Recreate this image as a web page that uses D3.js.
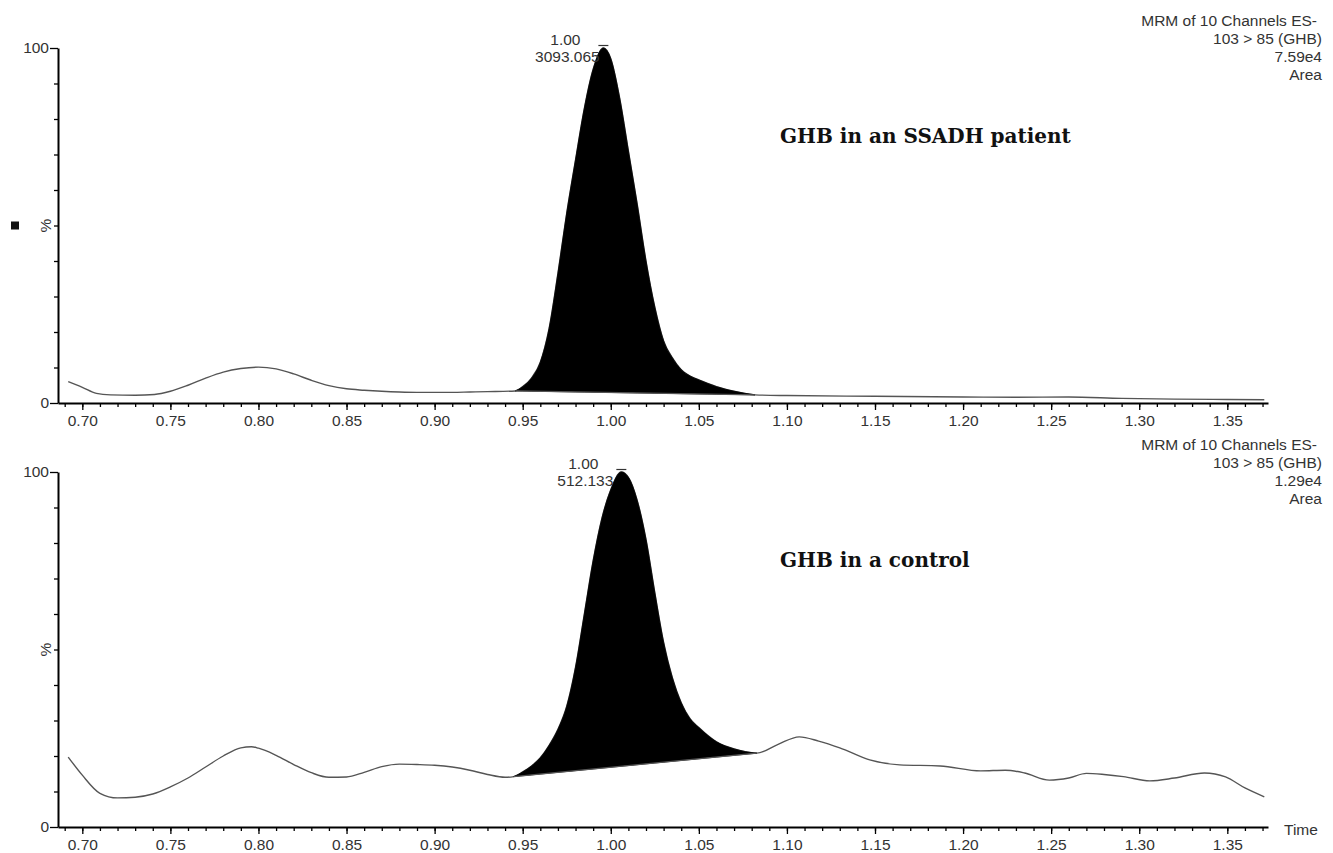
<!DOCTYPE html>
<html>
<head>
<meta charset="utf-8">
<script src="https://cdn.jsdelivr.net/npm/d3@7"></script>
<style>
  body { margin: 0; background: #fff; }
  svg { display: block; }
  .tick text { font-family: "Liberation Sans", Arial, sans-serif; font-size: 15.5px; fill: #333; }
</style>
</head>
<body>
<div id="chart"></div>
<script>
// retention time (min) and relative intensity (%)
const topTime = [0.692, 0.700, 0.708, 0.716, 0.730, 0.741, 0.750, 0.760, 0.770, 0.780, 0.790, 0.800,
  0.810, 0.820, 0.830, 0.840, 0.850, 0.860, 0.870, 0.880, 0.890, 0.900, 0.910, 0.920, 0.930, 0.9457,
  0.950, 0.955, 0.960, 0.965, 0.970, 0.975, 0.980, 0.985, 0.990, 0.9958, 1.000, 1.005, 1.010, 1.015,
  1.020, 1.025, 1.030, 1.035, 1.040, 1.045, 1.050, 1.055, 1.060, 1.070, 1.0819, 1.100, 1.150, 1.200,
  1.230, 1.260, 1.290, 1.320, 1.350, 1.371];
const topPct = [6.0, 4.4, 2.7, 2.3, 2.2, 2.4, 3.3, 5.0, 7.0, 8.7, 9.7, 10.1,
  9.6, 8.2, 6.4, 4.9, 4.0, 3.6, 3.3, 3.1, 3.0, 3.0, 3.0, 3.1, 3.2, 3.4,
  4.6, 7.0, 11.5, 21, 36.5, 53.5, 68.5, 83, 94, 100, 97, 86, 71, 56,
  40, 27, 17.5, 12.7, 9.4, 7.6, 6.5, 5.5, 4.6, 3.3, 2.3, 2.1, 1.9, 1.7,
  1.6, 1.7, 1.3, 1.1, 1.0, 0.9];

const botTime = [0.692, 0.700, 0.710, 0.720, 0.730, 0.740, 0.750, 0.760, 0.770, 0.780, 0.790, 0.796,
  0.800, 0.810, 0.820, 0.830, 0.840, 0.850, 0.860, 0.870, 0.880, 0.890, 0.900, 0.910, 0.920, 0.930,
  0.940, 0.9449, 0.950, 0.955, 0.960, 0.965, 0.970, 0.975, 0.980, 0.985, 0.990, 0.995, 1.000, 1.006,
  1.010, 1.015, 1.020, 1.025, 1.030, 1.035, 1.040, 1.045, 1.050, 1.060, 1.070, 1.0829, 1.095, 1.107,
  1.118, 1.130, 1.147, 1.164, 1.187, 1.210, 1.224, 1.235, 1.249, 1.260, 1.270, 1.280, 1.291, 1.306,
  1.320, 1.337, 1.349, 1.360, 1.371];
const botPct = [19.7, 14.6, 9.5, 8.2, 8.4, 9.3, 11.3, 13.8, 16.9, 20.0, 22.3, 22.6,
  22.2, 20.2, 17.6, 15.3, 14.0, 14.1, 15.4, 17.0, 17.7, 17.6, 17.4, 16.9, 16.0, 14.8,
  14.0, 14.2, 15.5, 17.2, 19.5, 23, 27.5, 34, 45, 60, 75, 87, 95, 100,
  98.5, 92, 81, 66, 52, 42, 35, 30.5, 28, 24, 22, 20.8, 23.3, 25.4,
  24.2, 22.3, 18.9, 17.5, 17.2, 15.8, 16.0, 15.2, 13.2, 13.8, 15.1, 14.8, 14.2, 13.0,
  13.8, 15.2, 14.1, 11.0, 8.5];

// integration limits [start, end]
const topPeak = [0.9457, 1.0819];
const botPeak = [0.9449, 1.0829];

const peakRT = ["1.00", "1.00"];
const peakArea = ["3093.065", "512.133"];
const headerLines = [
  ["MRM of 10 Channels ES-", "103 > 85 (GHB)", "7.59e4", "Area"],
  ["MRM of 10 Channels ES-", "103 > 85 (GHB)", "1.29e4", "Area"]
];
const panelTitles = ["GHB in an SSADH patient", "GHB in a control"];

const xMajor = [0.70, 0.75, 0.80, 0.85, 0.90, 0.95, 1.00, 1.05, 1.10, 1.15, 1.20, 1.25, 1.30, 1.35];
const xMinor = d3.range(69, 138).map(d => d / 100);
const yMajor = [0, 100];
const yMinor = [10, 20, 30, 40, 50, 60, 70, 80, 90];

const w = 1333, h = 853;
const svg = d3.select("#chart").append("svg")
  .attr("width", w).attr("height", h);

const x = d3.scaleLinear().domain([0.6862, 1.3731]).range([58, 1268]);

const panels = [
  { time: topTime, pct: topPct, peak: topPeak, y0: 403, y1: 48, square: true },
  { time: botTime, pct: botPct, peak: botPeak, y0: 827, y1: 472, square: false }
];

const sans = "'Liberation Sans', Arial, sans-serif";

panels.forEach((p, i) => {
  const y = d3.scaleLinear().domain([0, 100]).range([p.y0, p.y1]);
  const g = svg.append("g");
  const pts = p.time.map((t, k) => ({ t: t, v: p.pct[k] }));

  // trace
  const line = d3.line().x(d => x(d.t)).y(d => y(d.v)).curve(d3.curveMonotoneX);
  g.append("path").datum(pts)
    .attr("d", line)
    .attr("fill", "none")
    .attr("stroke", "#555")
    .attr("stroke-width", 1.4);

  // integrated peak, filled down to a straight baseline
  const s = pts.find(d => d.t === p.peak[0]);
  const e = pts.find(d => d.t === p.peak[1]);
  const base = d3.scaleLinear().domain([s.t, e.t]).range([s.v, e.v]);
  const inPeak = pts.filter(d => d.t >= s.t && d.t <= e.t);
  const area = d3.area().x(d => x(d.t)).y0(d => y(base(d.t))).y1(d => y(d.v)).curve(d3.curveMonotoneX);
  g.append("path").datum(inPeak)
    .attr("d", area)
    .attr("fill", "#000")
    .attr("stroke", "#000")
    .attr("stroke-width", 0.8);
  g.append("line")
    .attr("x1", x(s.t)).attr("y1", y(s.v))
    .attr("x2", x(e.t)).attr("y2", y(e.v))
    .attr("stroke", "#555").attr("stroke-width", 1.2);

  // apex marker and labels
  const apex = pts.reduce((a, b) => (b.v > a.v ? b : a));
  const ax = x(apex.t), ay = y(apex.v);
  g.append("line")
    .attr("x1", ax - 5).attr("x2", ax + 5)
    .attr("y1", ay - 2.5).attr("y2", ay - 2.5)
    .attr("stroke", "#333").attr("stroke-width", 1.2);
  g.append("text")
    .attr("x", ax - 38).attr("y", ay - 3)
    .attr("text-anchor", "middle")
    .style("font-family", sans).style("font-size", "15.5px").attr("fill", "#333")
    .text(peakRT[i]);
  g.append("text")
    .attr("x", ax - 36).attr("y", ay + 14)
    .attr("text-anchor", "middle")
    .style("font-family", sans).style("font-size", "15.5px").attr("fill", "#333")
    .text(peakArea[i]);

  // axes
  const xAxis = g.append("g").attr("transform", `translate(0,${p.y0})`)
    .call(d3.axisBottom(x).tickValues(xMajor).tickSize(7).tickPadding(5)
      .tickSizeOuter(0).tickFormat(d3.format(".2f")));
  g.append("g").attr("transform", `translate(0,${p.y0})`)
    .call(d3.axisBottom(x).tickValues(xMinor).tickSize(4).tickSizeOuter(0).tickFormat(""))
    .select(".domain").remove();
  xAxis.select(".domain").attr("stroke-width", 2);

  const yAxis = g.append("g").attr("transform", "translate(58,0)")
    .call(d3.axisLeft(y).tickValues(yMajor).tickSize(8).tickPadding(1).tickSizeOuter(0));
  g.append("g").attr("transform", "translate(58,0)")
    .call(d3.axisLeft(y).tickValues(yMinor).tickSize(4).tickFormat(""))
    .select(".domain").remove();
  yAxis.select(".domain").attr("stroke-width", 2);
  g.selectAll(".tick line").attr("stroke-width", 1.3);
  g.selectAll(".tick text").attr("fill", "#333");

  // "%" label
  const my = (p.y0 + p.y1) / 2;
  g.append("text")
    .attr("transform", `translate(51,${my}) rotate(-90)`)
    .attr("text-anchor", "middle")
    .style("font-family", sans).style("font-size", "15.5px").attr("fill", "#333")
    .text("%");
  if (p.square) {
    g.append("rect").attr("x", 11).attr("y", my - 4).attr("width", 8).attr("height", 8).attr("fill", "#111");
  }

  // header at upper right
  headerLines[i].forEach((t, k) => {
    g.append("text")
      .attr("x", k === 0 ? 1317 : 1322)
      .attr("y", p.y1 - 22 + k * 18)
      .attr("text-anchor", "end")
      .style("font-family", sans).style("font-size", "15.5px").attr("fill", "#333")
      .text(t);
  });

  // panel title
  g.append("text")
    .attr("x", 780).attr("y", p.y1 + 95)
    .style("font-family", "'DejaVu Serif', 'Liberation Serif', serif")
    .style("font-weight", "bold").style("font-size", "20px").attr("fill", "#111")
    .text(panelTitles[i]);
});

// x axis caption
svg.append("text")
  .attr("x", 1284).attr("y", 835)
  .style("font-family", sans).style("font-size", "15.5px").attr("fill", "#333")
  .text("Time");
</script>
</body>
</html>
